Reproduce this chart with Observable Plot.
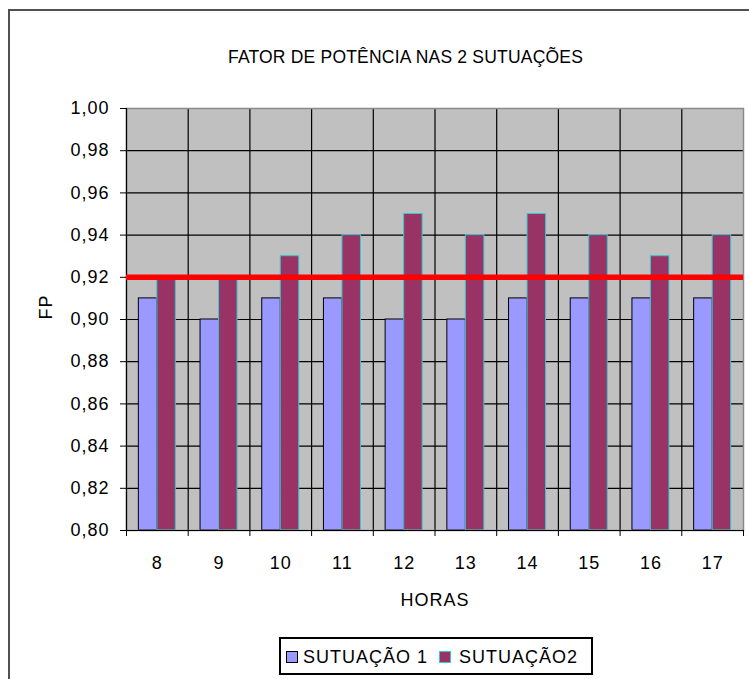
<!DOCTYPE html>
<html>
<head>
<meta charset="utf-8">
<script src="https://cdn.jsdelivr.net/npm/d3@7"></script>
<script src="https://cdn.jsdelivr.net/npm/@observablehq/plot@0.6"></script>
<style>
  body { margin: 0; background: #fff; font-family: "Liberation Sans", Arial, sans-serif; color: #000; }
  #wrap { position: relative; width: 749px; height: 679px; overflow: hidden; background: #fff; }
  #frame { position: absolute; left: 8px; top: 9px; width: 800px; height: 800px; border: 2px solid #505050; }
  #title { position: absolute; left: 0; width: 811px; top: 47px; text-align: center; font-size: 17.5px; line-height: 20px; white-space: nowrap; letter-spacing: 0.2px; }
  #chart { position: absolute; left: 0; top: 95px; }
  #chart svg text { letter-spacing: 1px; }
  #legend { position: absolute; left: 279px; top: 637px; width: 310px; height: 32px; border: 2px solid #000; background: #fff;
            display: flex; align-items: center; font-size: 18px; letter-spacing: 1px; white-space: nowrap; box-sizing: content-box; padding-top: 2px; }
  .sw { width: 12px; height: 12px; box-sizing: border-box; border: 1px solid #000; flex: none; }
</style>
</head>
<body>
<div id="wrap">
  <div id="frame"></div>
  <div id="title"></div>
  <div id="chart"></div>
  <div id="legend"></div>
</div>
<script>
const titleText = "FATOR DE POTÊNCIA NAS 2 SUTUAÇÕES";
const xLabel = "HORAS";
const yLabel = "FP";
const hours = [8, 9, 10, 11, 12, 13, 14, 15, 16, 17];
const situacao1 = [0.91, 0.90, 0.91, 0.91, 0.90, 0.90, 0.91, 0.91, 0.91, 0.91];
const situacao2 = [0.92, 0.92, 0.93, 0.94, 0.95, 0.94, 0.95, 0.94, 0.93, 0.94];
const seriesNames = ["SUTUAÇÃO 1", "SUTUAÇÃO2"];
const seriesFill = ["#9999ff", "#993366"];
const seriesStroke = ["#000000", "#33cccc"];
const yTicks = [0.80, 0.82, 0.84, 0.86, 0.88, 0.90, 0.92, 0.94, 0.96, 0.98, 1.00];
const limitValue = 0.92;

document.getElementById("title").textContent = titleText;

const halfBand = 0.5;
const barWidth = 0.3;
const bounds = hours.map(h => h - halfBand).concat([hours[hours.length - 1] + halfBand]);
const rows1 = hours.map((h, i) => ({h, v: situacao1[i], x1: h - barWidth, x2: h}));
const rows2 = hours.map((h, i) => ({h, v: situacao2[i], x1: h, x2: h + barWidth}));
const yMin = yTicks[0], yMax = yTicks[yTicks.length - 1];

const chart = Plot.plot({
  width: 749,
  height: 520,
  marginTop: 13,
  marginBottom: 85,
  marginLeft: 126,
  marginRight: 6,
  style: {fontFamily: "'Liberation Sans', Arial, sans-serif", fontSize: "18px", color: "#000", background: "transparent"},
  x: {type: "linear", domain: [bounds[0], bounds[bounds.length - 1]]},
  y: {domain: [yMin, yMax]},
  marks: [
    Plot.frame({fill: "#c0c0c0"}),
    Plot.ruleY(yTicks.slice(1, -1), {stroke: "#000", strokeWidth: 1.2}),
    Plot.ruleX(bounds.slice(1, -1), {stroke: "#000", strokeWidth: 1.2}),
    Plot.rectY(rows1, {x1: "x1", x2: "x2", y1: yMin, y2: "v", fill: seriesFill[0], stroke: seriesStroke[0], strokeWidth: 1}),
    Plot.rectY(rows2, {x1: "x1", x2: "x2", y1: yMin, y2: "v", fill: seriesFill[1], stroke: seriesStroke[1], strokeWidth: 1}),
    Plot.frame({stroke: "#8a8a8a", strokeWidth: 1.5}),
    Plot.ruleX([bounds[0]], {stroke: "#000", strokeWidth: 1.2}),
    Plot.ruleY([yMin], {stroke: "#000", strokeWidth: 1.2}),
    Plot.ruleY([limitValue], {stroke: "#ff0000", strokeWidth: 5.5}),
    Plot.axisY({ticks: yTicks, tickSize: 6, tickPadding: 11, tickFormat: d => d.toFixed(2).replace(".", ","), label: null}),
    Plot.axisX({ticks: bounds, tickSize: 6, tickFormat: () => "", label: null}),
    Plot.axisX({ticks: hours, tickSize: 0, tickPadding: 26, tickFormat: d => String(d), label: null}),
    Plot.text([xLabel], {frameAnchor: "bottom", dy: 75, text: d => d, fontSize: 18}),
    Plot.text([yLabel], {frameAnchor: "left", dx: -80, rotate: -90, text: d => d, fontSize: 18})
  ]
});
document.getElementById("chart").appendChild(chart);

const legend = document.getElementById("legend");
seriesNames.forEach((name, i) => {
  const sw = document.createElement("div");
  sw.className = "sw";
  sw.style.background = seriesFill[i];
  sw.style.borderColor = seriesStroke[i];
  sw.style.marginLeft = i === 0 ? "5px" : "11px";
  const t = document.createElement("span");
  t.textContent = name;
  t.style.marginLeft = i === 0 ? "5px" : "8px";
  legend.appendChild(sw);
  legend.appendChild(t);
});
</script>
</body>
</html>
